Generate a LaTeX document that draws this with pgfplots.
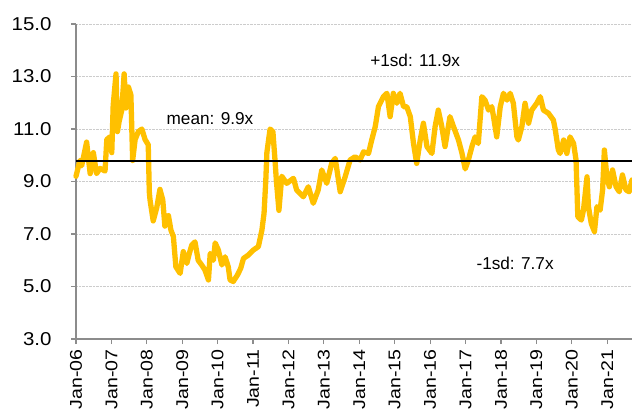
\documentclass[border=0pt]{standalone}
\usepackage{pgfplots}
\pgfplotsset{compat=1.18}
\usepackage{fontspec}
\setmainfont{Liberation Sans}
\newfontfamily\xlabfont[FakeStretch=1.15]{Liberation Sans}
\newfontfamily\ylabfont[FakeStretch=1.1]{Liberation Sans}
\definecolor{gold}{HTML}{FFC000}
\definecolor{axgray}{HTML}{8C8C8C}
\begin{document}
\begin{tikzpicture}
\begin{axis}[
  scale only axis, width=556pt, height=315pt,
  xmin=2006, xmax=2021.70, ymin=3, ymax=15,
  axis x line*=bottom, axis y line*=left,
  axis line style={axgray, line width=1.3pt},
  xtick={2006,2007,...,2021},
  xticklabels={Jan-06,Jan-07,Jan-08,Jan-09,Jan-10,Jan-11,Jan-12,Jan-13,Jan-14,Jan-15,Jan-16,Jan-17,Jan-18,Jan-19,Jan-20,Jan-21},
  x tick label style={rotate=90, anchor=east, font=\xlabfont\fontsize{17}{18}\selectfont},
  xticklabel shift=2pt,
  ytick={3,5,7,9,11,13,15},
  yticklabels={3.0,5.0,7.0,9.0,11.0,13.0,15.0},
  y tick label style={font=\ylabfont\fontsize{18.6}{19}\selectfont},
  yticklabel shift=16pt,
  /pgf/number format/assume math mode=true,
  ymajorgrids, grid style={densely dotted, gray!40, line width=0.8pt},
  tick style={axgray, line width=1.2pt},
  tick align=outside, major tick length=5pt,
  clip=false,
]
\addplot[gold, line width=5.3pt, line join=round, line cap=round] table {
x y
2006.00 9.2
2006.11 9.8
2006.16 9.6
2006.30 10.5
2006.40 9.3
2006.49 10.1
2006.58 9.3
2006.68 9.5
2006.82 9.4
2006.87 10.6
2006.96 10.7
2007.01 10.1
2007.05 11.9
2007.13 13.1
2007.17 10.9
2007.22 11.3
2007.29 11.7
2007.36 13.1
2007.41 11.8
2007.48 12.6
2007.55 12.3
2007.60 9.8
2007.67 10.6
2007.76 10.9
2007.86 11.0
2007.95 10.6
2008.04 10.4
2008.07 8.6
2008.09 8.3
2008.18 7.5
2008.28 8.0
2008.37 8.7
2008.45 8.3
2008.51 7.3
2008.61 7.7
2008.68 7.15
2008.75 6.9
2008.82 5.75
2008.94 5.5
2009.03 6.33
2009.13 5.88
2009.20 6.26
2009.27 6.58
2009.36 6.7
2009.45 6.0
2009.55 5.82
2009.64 5.63
2009.74 5.25
2009.79 6.26
2009.88 6.0
2009.93 6.66
2010.02 6.39
2010.12 5.82
2010.21 6.13
2010.30 5.75
2010.35 5.25
2010.44 5.19
2010.56 5.44
2010.65 5.69
2010.73 6.07
2010.87 6.2
2011.01 6.39
2011.15 6.52
2011.25 7.15
2011.31 7.79
2011.36 9.06
2011.39 10.1
2011.48 11.0
2011.56 10.9
2011.62 9.8
2011.66 9.0
2011.73 7.9
2011.81 9.2
2011.95 8.93
2012.14 9.12
2012.23 8.68
2012.42 8.42
2012.56 8.8
2012.70 8.17
2012.84 8.68
2012.94 9.44
2013.08 8.93
2013.22 9.69
2013.32 9.88
2013.46 8.61
2013.60 9.18
2013.74 9.82
2013.88 9.94
2014.02 9.82
2014.12 10.13
2014.26 10.07
2014.35 10.58
2014.45 11.09
2014.54 11.85
2014.68 12.23
2014.78 12.36
2014.87 11.47
2014.96 12.36
2015.06 11.98
2015.15 12.36
2015.25 11.85
2015.34 11.85
2015.44 11.47
2015.53 10.45
2015.62 9.69
2015.72 10.58
2015.81 11.22
2015.91 10.33
2016.05 10.07
2016.14 11.09
2016.23 11.72
2016.33 11.09
2016.42 10.33
2016.56 11.47
2016.66 11.09
2016.80 10.58
2016.90 10.07
2016.99 9.48
2017.08 9.82
2017.18 10.33
2017.27 10.7
2017.36 10.45
2017.46 12.23
2017.55 12.1
2017.65 11.72
2017.74 11.85
2017.79 11.47
2017.88 10.7
2017.98 11.85
2018.07 12.36
2018.17 12.1
2018.26 12.36
2018.35 11.98
2018.45 10.7
2018.49 10.58
2018.59 11.09
2018.68 11.98
2018.78 11.22
2018.87 11.72
2019.01 11.98
2019.11 12.23
2019.20 11.72
2019.34 11.6
2019.48 11.34
2019.53 11.0
2019.62 10.2
2019.67 10.07
2019.77 10.58
2019.86 10.07
2019.95 10.7
2020.05 10.45
2020.12 9.82
2020.17 7.66
2020.27 7.53
2020.33 7.91
2020.43 9.18
2020.47 8.04
2020.55 7.4
2020.64 7.09
2020.71 8.04
2020.80 7.91
2020.87 8.68
2020.92 10.2
2020.99 9.18
2021.06 8.8
2021.15 9.44
2021.25 8.8
2021.34 8.61
2021.43 9.25
2021.53 8.68
2021.62 8.61
2021.70 9.06
};
\addplot[black, line width=2.2pt] coordinates {(2006,9.78) (2021.70,9.78)};
\node[anchor=base west, font=\fontsize{17.2}{18}\selectfont] at (axis cs:2008.46,11.19) {mean: 9.9x};
\node[anchor=base west, font=\fontsize{17.2}{18}\selectfont] at (axis cs:2014.21,13.40) {+1sd: 11.9x};
\node[anchor=base west, font=\fontsize{17.2}{18}\selectfont] at (axis cs:2017.21,5.63) {-1sd: 7.7x};
\end{axis}
\pgfresetboundingbox
\path (-76pt,-74pt) rectangle (556pt,339pt);
\end{tikzpicture}
\end{document}
